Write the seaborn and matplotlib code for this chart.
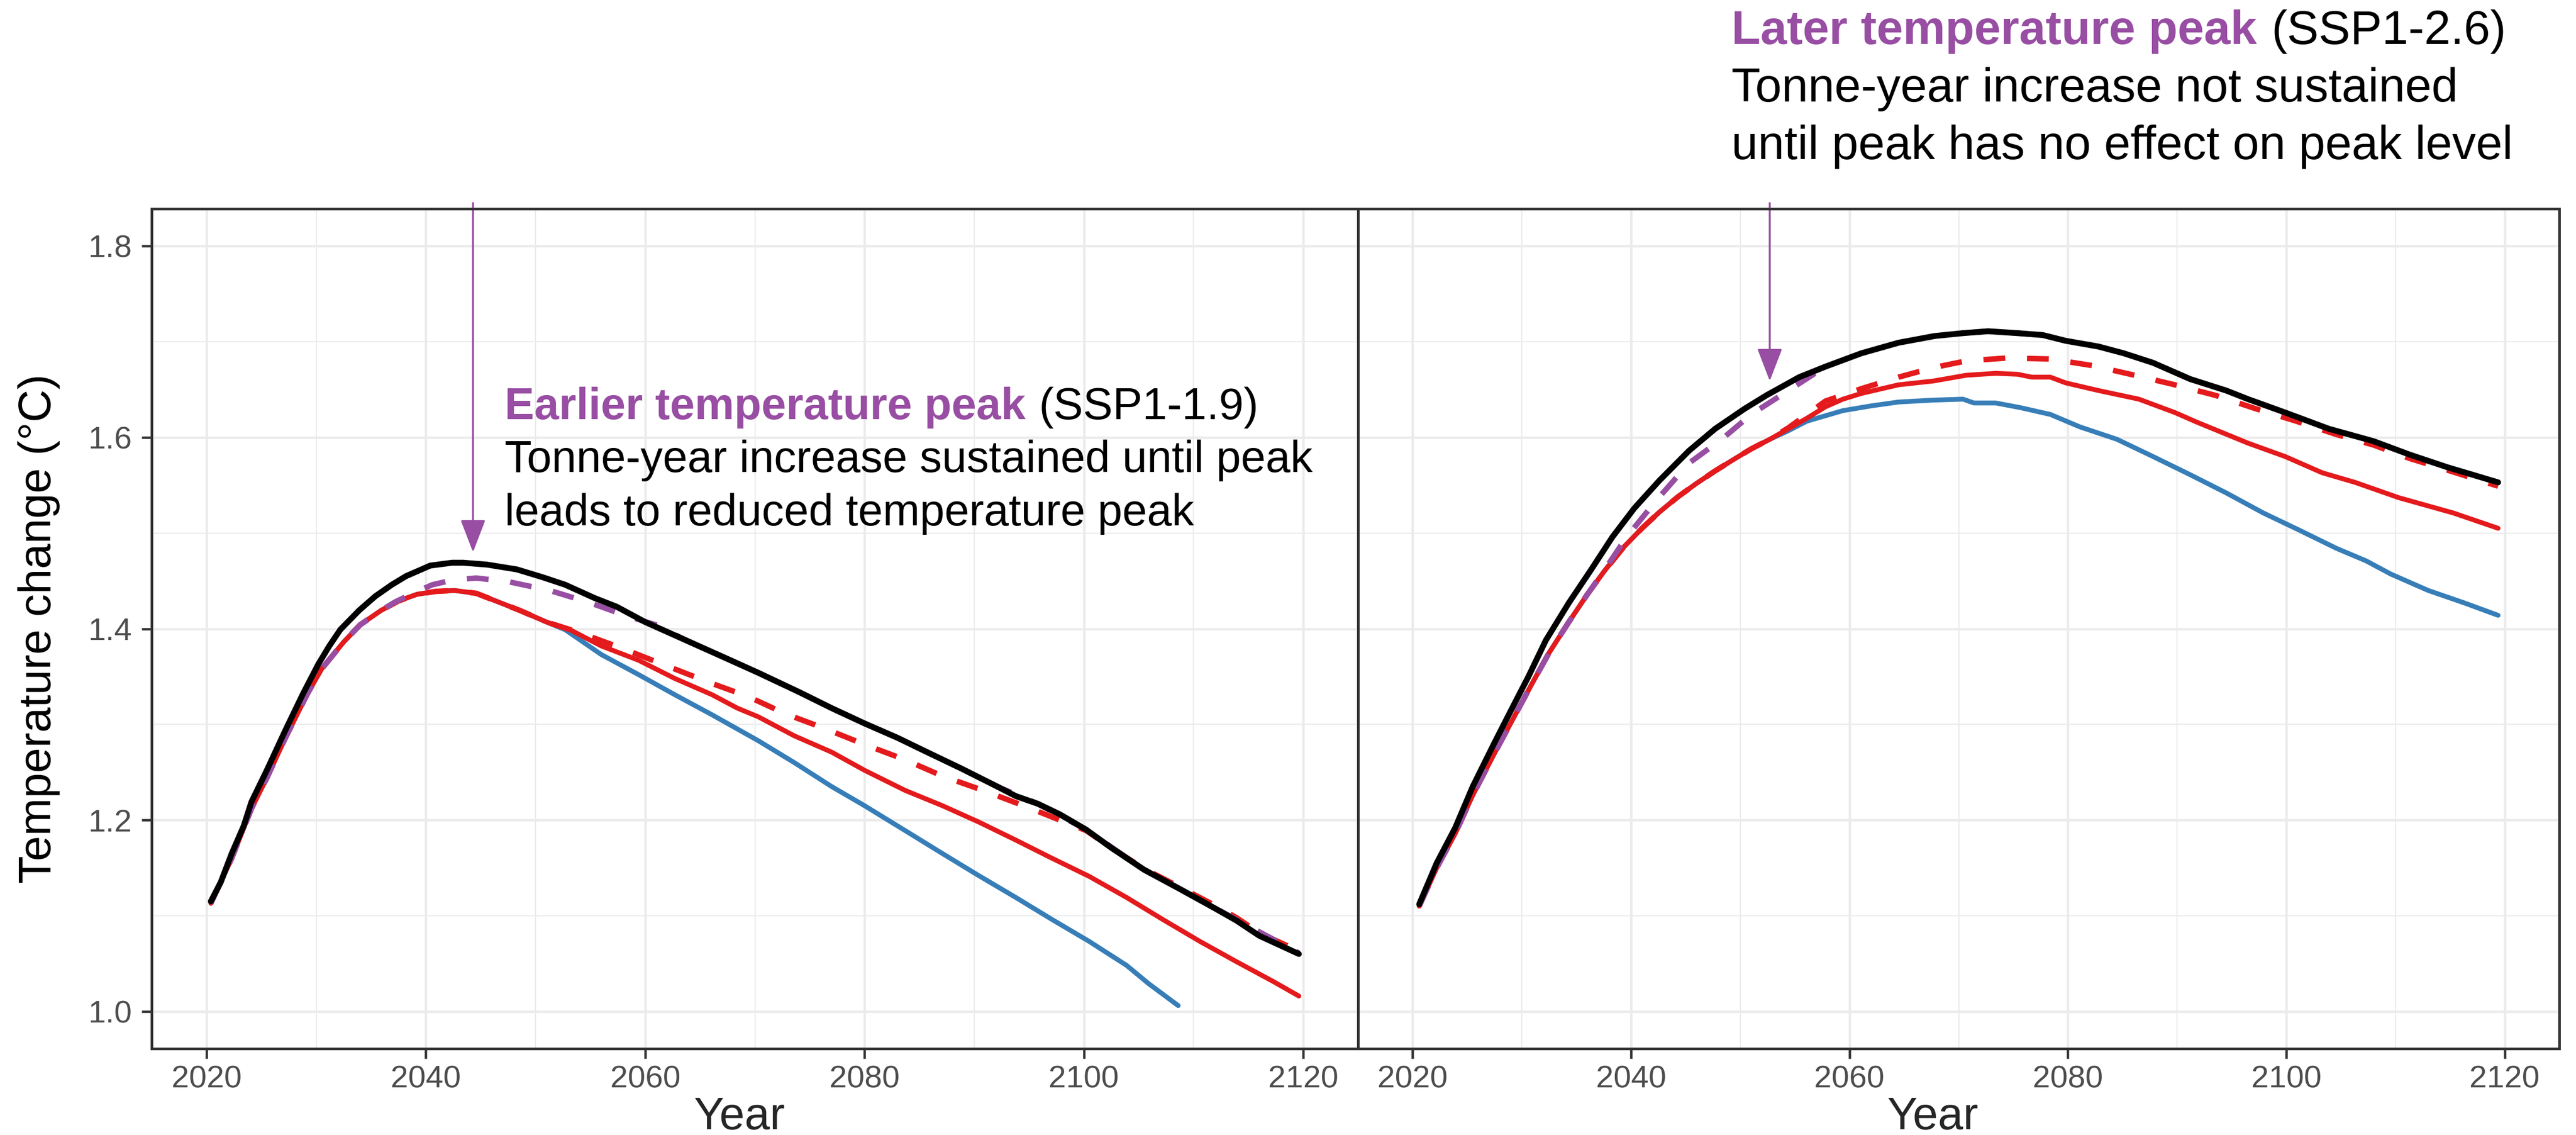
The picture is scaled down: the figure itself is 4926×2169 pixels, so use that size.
import matplotlib
matplotlib.use("Agg")
import matplotlib.pyplot as plt
from matplotlib.ticker import FixedLocator, FormatStrFormatter
import seaborn as sns

# ---------------- data ----------------
# Left panel: SSP1-1.9 (earlier temperature peak)
L_black_x = [2020.4, 2021.3, 2022.3, 2023.4, 2024.1, 2025.5, 2027.2, 2028.8, 2030.2, 2031.2,
             2032.2, 2033.9, 2035.4, 2036.9, 2038.2, 2039.2, 2040.4, 2042.4, 2043.4, 2045.6,
             2048.3, 2050.6, 2052.7, 2055.4, 2057.4, 2060.0, 2063.7, 2067.4, 2070.3, 2074.0,
             2077.0, 2080.0, 2083.0, 2085.7, 2088.8, 2092.1, 2093.8, 2095.8, 2097.8, 2100.2,
             2102.5, 2105.5, 2108.9, 2111.9, 2113.9, 2116.0, 2119.6]
L_black_y = [1.115, 1.135, 1.165, 1.194, 1.219, 1.252, 1.294, 1.332, 1.363, 1.382,
             1.399, 1.419, 1.434, 1.446, 1.455, 1.460, 1.466, 1.469, 1.469, 1.467,
             1.462, 1.454, 1.446, 1.432, 1.423, 1.407, 1.388, 1.369, 1.354, 1.334,
             1.317, 1.301, 1.286, 1.271, 1.254, 1.235, 1.225, 1.217, 1.206, 1.190,
             1.171, 1.148, 1.127, 1.108, 1.095, 1.079, 1.060]

L_red_x = [2020.4, 2022.3, 2024.1, 2025.5, 2027.2, 2029.2, 2030.5, 2032.5, 2034.0, 2035.9,
           2037.5, 2039.2, 2040.9, 2042.6, 2044.6, 2046.6, 2048.6, 2051.0, 2053.3, 2056.0,
           2059.4, 2062.7, 2066.1, 2068.4, 2070.3, 2073.6, 2077.0, 2080.0, 2083.7, 2087.1,
           2090.4, 2093.8, 2097.1, 2100.5, 2103.9, 2107.2, 2110.6, 2113.9, 2117.3, 2119.6]
L_red_y = [1.113, 1.160, 1.212, 1.244, 1.286, 1.332, 1.358, 1.386, 1.404, 1.419,
           1.429, 1.436, 1.439, 1.440, 1.437, 1.428, 1.419, 1.407, 1.398, 1.382,
           1.367, 1.348, 1.331, 1.317, 1.308, 1.288, 1.271, 1.252, 1.231, 1.215,
           1.198, 1.179, 1.160, 1.141, 1.119, 1.096, 1.073, 1.052, 1.031, 1.016]

L_blue_x = [2020.4, 2022.3, 2024.1, 2025.5, 2027.2, 2029.2, 2030.5, 2032.5, 2034.0, 2035.9,
            2037.5, 2039.2, 2040.9, 2042.6, 2044.6, 2046.6, 2048.6, 2051.0, 2052.7, 2056.0,
            2059.4, 2062.7, 2066.1, 2070.3, 2073.6, 2077.0, 2080.0, 2083.7, 2087.1, 2090.4,
            2093.8, 2097.1, 2100.5, 2103.9, 2105.9, 2108.6]
L_blue_y = [1.113, 1.160, 1.212, 1.244, 1.286, 1.332, 1.358, 1.386, 1.404, 1.419,
            1.429, 1.436, 1.439, 1.440, 1.437, 1.428, 1.419, 1.407, 1.399, 1.373,
            1.352, 1.331, 1.310, 1.283, 1.260, 1.235, 1.215, 1.189, 1.165, 1.142,
            1.119, 1.096, 1.073, 1.048, 1.029, 1.006]

L_reddash_x = [2020.4, 2022.3, 2024.1, 2025.5, 2027.2, 2029.2, 2030.5, 2032.5, 2034.0, 2035.9,
               2037.5, 2039.2, 2040.9, 2042.6, 2044.6, 2046.6, 2048.6, 2051.0, 2054.0, 2058.0,
               2062.0, 2065.8, 2069.4, 2072.8, 2076.3, 2080.0, 2083.7, 2087.1, 2090.8, 2094.5,
               2097.8, 2100.2, 2102.5, 2105.5, 2108.9, 2111.9, 2113.9, 2116.0, 2119.6]
L_reddash_y = [1.113, 1.160, 1.212, 1.244, 1.286, 1.332, 1.358, 1.386, 1.404, 1.419,
               1.429, 1.436, 1.439, 1.440, 1.437, 1.428, 1.419, 1.407, 1.396, 1.379,
               1.361, 1.344, 1.329, 1.311, 1.296, 1.279, 1.263, 1.246, 1.231, 1.215,
               1.200, 1.189, 1.171, 1.149, 1.129, 1.111, 1.098, 1.082, 1.063]

L_purple_x = [2020.4, 2022.3, 2024.1, 2025.5, 2027.2, 2029.2, 2030.5, 2032.5, 2034.0, 2035.9,
              2037.2, 2039.0, 2040.6, 2042.5, 2044.6, 2047.6, 2051.3, 2055.0, 2058.4, 2061.0,
              2063.7, 2067.4, 2070.3, 2074.0, 2077.0, 2080.0, 2083.0, 2085.7, 2088.8, 2092.1,
              2095.8, 2100.2, 2105.5, 2110.0, 2113.9, 2119.6]
L_purple_y = [1.113, 1.160, 1.212, 1.244, 1.286, 1.332, 1.358, 1.386, 1.404, 1.419,
              1.428, 1.438, 1.446, 1.451, 1.453, 1.449, 1.440, 1.427, 1.413, 1.404,
              1.388, 1.369, 1.354, 1.334, 1.317, 1.301, 1.286, 1.271, 1.254, 1.235,
              1.217, 1.190, 1.148, 1.120, 1.096, 1.061]

# Right panel: SSP1-2.6 (later temperature peak)
R_black_x = [2020.6, 2022.2, 2023.9, 2025.5, 2027.5, 2029.2, 2030.6, 2032.2, 2034.3, 2036.3,
             2038.3, 2040.3, 2042.6, 2045.3, 2047.7, 2050.4, 2052.4, 2055.4, 2057.8, 2061.1,
             2064.5, 2067.8, 2070.4, 2072.7, 2075.4, 2077.7, 2079.8, 2082.8, 2085.1, 2087.8,
             2091.2, 2094.5, 2096.5, 2099.9, 2103.9, 2108.0, 2111.3, 2114.7, 2119.4]
R_black_y = [1.112, 1.155, 1.192, 1.235, 1.281, 1.319, 1.350, 1.388, 1.427, 1.461,
             1.496, 1.526, 1.555, 1.586, 1.609, 1.630, 1.644, 1.663, 1.674, 1.688,
             1.699, 1.706, 1.709, 1.711, 1.709, 1.707, 1.701, 1.695, 1.688, 1.678,
             1.661, 1.649, 1.640, 1.626, 1.609, 1.596, 1.582, 1.569, 1.553]

R_red_x = [2020.6, 2022.2, 2023.9, 2025.5, 2027.5, 2029.2, 2030.9, 2032.5, 2034.3, 2036.0,
           2037.6, 2039.3, 2041.0, 2042.6, 2044.3, 2046.0, 2047.7, 2049.4, 2051.0, 2052.7,
           2054.4, 2056.1, 2057.8, 2059.4, 2061.1, 2064.5, 2067.7, 2070.7, 2073.4, 2075.4,
           2076.7, 2078.4, 2079.8, 2082.8, 2086.5, 2089.8, 2091.8, 2096.5, 2099.9, 2103.3,
           2106.3, 2110.3, 2115.3, 2119.4]
R_red_y = [1.110, 1.150, 1.186, 1.226, 1.270, 1.306, 1.342, 1.375, 1.407, 1.436,
           1.461, 1.485, 1.505, 1.522, 1.538, 1.552, 1.565, 1.577, 1.588, 1.598,
           1.609, 1.620, 1.632, 1.640, 1.646, 1.655, 1.659, 1.665, 1.667, 1.666,
           1.663, 1.663, 1.657, 1.649, 1.640, 1.626, 1.616, 1.594, 1.580, 1.563,
           1.553, 1.537, 1.521, 1.505]

R_blue_x = [2020.6, 2022.2, 2023.9, 2025.5, 2027.5, 2029.2, 2030.9, 2032.5, 2034.3, 2036.0,
            2037.6, 2039.3, 2041.0, 2042.6, 2044.3, 2046.0, 2047.7, 2049.4, 2051.0, 2052.7,
            2054.4, 2056.1, 2059.4, 2062.0, 2064.5, 2067.7, 2070.4, 2071.4, 2073.4, 2075.7,
            2078.4, 2081.1, 2084.5, 2087.8, 2091.2, 2094.5, 2097.9, 2101.2, 2104.6, 2107.3,
            2109.6, 2113.0, 2116.3, 2119.4]
R_blue_y = [1.110, 1.150, 1.186, 1.226, 1.270, 1.306, 1.342, 1.375, 1.407, 1.436,
            1.461, 1.485, 1.505, 1.522, 1.538, 1.552, 1.565, 1.577, 1.588, 1.598,
            1.607, 1.617, 1.628, 1.633, 1.637, 1.639, 1.640, 1.636, 1.636, 1.631,
            1.624, 1.611, 1.598, 1.580, 1.561, 1.542, 1.521, 1.503, 1.484, 1.471,
            1.457, 1.440, 1.427, 1.414]

R_reddash_x = [2020.6, 2022.2, 2023.9, 2025.5, 2027.5, 2029.2, 2030.9, 2032.5, 2034.3, 2036.0,
               2037.6, 2039.3, 2041.0, 2042.6, 2044.3, 2046.0, 2047.7, 2049.4, 2051.0, 2052.7,
               2054.4, 2057.8, 2061.1, 2064.5, 2067.7, 2070.7, 2074.4, 2078.4, 2082.3, 2086.1,
               2089.8, 2093.5, 2097.2, 2100.9, 2104.6, 2108.0, 2111.3, 2114.7, 2119.4]
R_reddash_y = [1.110, 1.150, 1.186, 1.226, 1.270, 1.306, 1.342, 1.375, 1.407, 1.436,
               1.461, 1.485, 1.505, 1.522, 1.538, 1.552, 1.565, 1.577, 1.588, 1.598,
               1.610, 1.638, 1.651, 1.663, 1.673, 1.680, 1.683, 1.682, 1.675, 1.665,
               1.655, 1.644, 1.630, 1.617, 1.603, 1.592, 1.578, 1.566, 1.549]

R_purple_x = [2020.6, 2022.2, 2023.9, 2025.5, 2027.5, 2029.2, 2030.9, 2032.5, 2034.3, 2036.0,
              2037.6, 2039.6, 2042.3, 2045.3, 2048.4, 2051.0, 2054.4, 2057.8, 2061.1, 2064.5,
              2067.8, 2070.4, 2072.7, 2075.4, 2077.7, 2079.8, 2082.8, 2085.1, 2087.8, 2091.2,
              2094.5, 2096.5, 2099.9, 2103.9, 2108.0, 2111.3, 2114.7, 2119.4]
R_purple_y = [1.110, 1.150, 1.186, 1.226, 1.270, 1.306, 1.342, 1.375, 1.407, 1.436,
              1.462, 1.496, 1.534, 1.573, 1.599, 1.624, 1.649, 1.674, 1.688, 1.699,
              1.706, 1.709, 1.711, 1.709, 1.707, 1.701, 1.695, 1.688, 1.678, 1.661,
              1.649, 1.640, 1.626, 1.609, 1.596, 1.582, 1.569, 1.553]

x_ticks = [2020, 2040, 2060, 2080, 2100, 2120]
x_minor = [2030, 2050, 2070, 2090, 2110]
y_ticks = [1.0, 1.2, 1.4, 1.6, 1.8]
y_minor = [1.1, 1.3, 1.5, 1.7]

left_title = "Earlier temperature peak"
left_scen = "(SSP1-1.9)"
left_lines = ["Tonne-year increase sustained until peak", "leads to reduced temperature peak"]
right_title = "Later temperature peak"
right_scen = "(SSP1-2.6)"
right_lines = ["Tonne-year increase not sustained", "until peak has no effect on peak level"]

# ---------------- style ----------------
RED, BLUE, PURPLE = "#E41A1C", "#377EB8", "#984EA3"
sns.set_theme(style="white")
plt.rcParams["font.family"] = ["Liberation Sans", "DejaVu Sans"]

W, H, DPI = 4926, 2169, 300
fig = plt.figure(figsize=(W / DPI, H / DPI), dpi=DPI)
fig.patch.set_facecolor("white")


def rect(x0, y0, x1, y1):
    return [x0 / W, 1 - y1 / H, (x1 - x0) / W, (y1 - y0) / H]


axL = fig.add_axes(rect(290, 399, 2597, 2004))
axR = fig.add_axes(rect(2597, 399, 4894, 2004))


def draw(ax, data):
    for xs, ys, col, lw, dashed, z in data:
        kw = dict(linestyle=(0, (4, 4))) if dashed else {}
        sns.lineplot(x=xs, y=ys, ax=ax, color=col, linewidth=lw, estimator=None,
                     sort=False, errorbar=None, zorder=z, **kw)


SOLID_LW, DASH_LW, BLACK_LW = 2.2, 2.5, 2.7
draw(axL, [(L_blue_x, L_blue_y, BLUE, SOLID_LW, False, 2),
           (L_red_x, L_red_y, RED, SOLID_LW, False, 3),
           (L_reddash_x, L_reddash_y, RED, DASH_LW, True, 4),
           (L_purple_x, L_purple_y, PURPLE, DASH_LW, True, 5),
           (L_black_x, L_black_y, "black", BLACK_LW, False, 6)])
draw(axR, [(R_blue_x, R_blue_y, BLUE, SOLID_LW, False, 2),
           (R_red_x, R_red_y, RED, SOLID_LW, False, 3),
           (R_reddash_x, R_reddash_y, RED, DASH_LW, True, 4),
           (R_purple_x, R_purple_y, PURPLE, DASH_LW, True, 5),
           (R_black_x, R_black_y, "black", BLACK_LW, False, 6)])

for ax in (axL, axR):
    ax.set_xlim(2015, 2125)
    ax.set_ylim(0.961, 1.839)
    ax.xaxis.set_major_locator(FixedLocator(x_ticks))
    ax.xaxis.set_minor_locator(FixedLocator(x_minor))
    ax.yaxis.set_major_locator(FixedLocator(y_ticks))
    ax.yaxis.set_minor_locator(FixedLocator(y_minor))
    ax.yaxis.set_major_formatter(FormatStrFormatter("%.1f"))
    ax.grid(which="major", color="#EBEBEB", linewidth=1.1)
    ax.grid(which="minor", color="#EBEBEB", linewidth=0.55)
    ax.set_axisbelow(True)
    for s in ax.spines.values():
        s.set_color("#333333")
        s.set_linewidth(1.2)
        s.set_zorder(10)
    ax.tick_params(which="major", length=4.6, width=1.1, color="#333333",
                   labelsize=14.5, labelcolor="#4D4D4D")
    ax.tick_params(axis="x", which="major", pad=3, bottom=True)
    ax.tick_params(which="minor", length=0)
    ax.set_xlabel("")
    ax.set_ylabel("")
    ax.set_facecolor("white")

axL.tick_params(axis="y", which="major", pad=4.5, left=True)
axR.tick_params(axis="y", left=False, labelleft=False)

fig.text(75 / W, 1 - 1201 / H, "Temperature change (°C)", rotation=90,
         ha="center", va="center", fontsize=20.8, color="black")
fig.text(1413 / W, 1 - 2158 / H, "Year", ha="center", va="baseline", fontsize=20.8)
fig.text(3695 / W, 1 - 2158 / H, "Year", ha="center", va="baseline", fontsize=20.8)

# arrows
arrow_kw = dict(arrowstyle="-|>,head_length=1.3,head_width=0.5", color=PURPLE,
                lw=0.9, shrinkA=0, shrinkB=0, mutation_scale=10)
a1 = axL.annotate("", xy=(2044.3, 1.480), xytext=(2044.3, 1.845),
                  arrowprops=arrow_kw, annotation_clip=False)
a2 = axR.annotate("", xy=(2052.7, 1.659), xytext=(2052.7, 1.845),
                  arrowprops=arrow_kw, annotation_clip=False)
for a in (a1, a2):
    a.arrow_patch.set_clip_on(False)
    a.arrow_patch.set_zorder(7)


def block(ax, x, ys, title, scen, lines, fs):
    t = ax.text(x, ys[0], title, color=PURPLE, fontweight="bold", fontsize=fs,
                ha="left", va="baseline", clip_on=False, zorder=8)
    fig.canvas.draw()
    w_pt = t.get_window_extent().width * 72 / fig.dpi
    ax.annotate(scen, xy=(x, ys[0]), xycoords="data",
                xytext=(w_pt + 0.3 * fs, 0), textcoords="offset points",
                fontsize=fs, ha="left", va="baseline", color="black",
                annotation_clip=False, zorder=8)
    for yy, s in zip(ys[1:], lines):
        ax.text(x, yy, s, fontsize=fs, ha="left", va="baseline", color="black",
                clip_on=False, zorder=8)


block(axL, 2047.2, [1.6189, 1.5636, 1.5078], left_title, left_scen, left_lines, 20.4)
block(axR, 2049.2, [2.0112, 1.9510, 1.8908], right_title, right_scen, right_lines, 21.8)

fig.savefig("out.png", dpi=DPI, facecolor="white")
